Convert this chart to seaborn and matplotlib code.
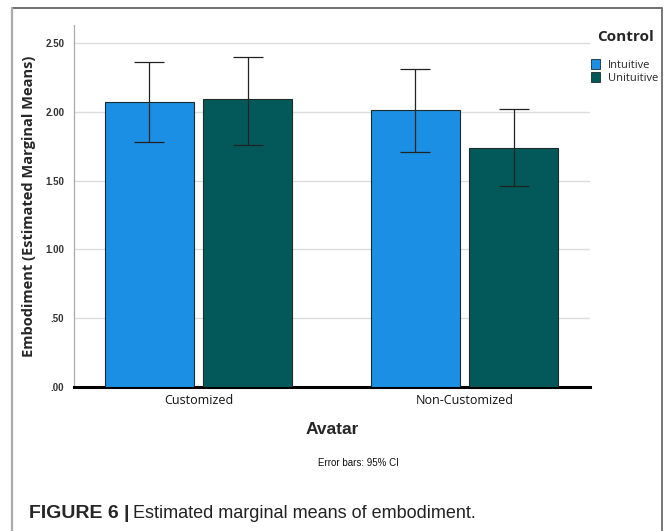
import matplotlib
matplotlib.use("Agg")
import matplotlib.pyplot as plt
from matplotlib.lines import Line2D
from matplotlib.patches import Patch
import seaborn as sns
import pandas as pd

# Estimated marginal means of embodiment with 95% CI bounds
avatar = ["Customized", "Customized", "Non-Customized", "Non-Customized"]
control = ["Intuitive", "Unituitive", "Intuitive", "Unituitive"]
means = [2.07, 2.09, 2.01, 1.74]
ci_low = [1.78, 1.76, 1.71, 1.46]
ci_high = [2.36, 2.40, 2.31, 2.02]

avatar_order = ["Customized", "Non-Customized"]
control_order = ["Intuitive", "Unituitive"]
y_ticks = [0.0, 0.5, 1.0, 1.5, 2.0, 2.5]
y_tick_labels = [".00", ".50", "1.00", "1.50", "2.00", "2.50"]

palette = {"Intuitive": "#1a8fe3", "Unituitive": "#03595a"}

df = pd.DataFrame({"Avatar": avatar, "Control": control, "Mean": means,
                   "Low": ci_low, "High": ci_high})

sns.set_theme(style="white")
plt.rcParams["font.family"] = ["Liberation Sans", "DejaVu Sans"]

fig = plt.figure(figsize=(6.70, 5.31), dpi=100)
ax = fig.add_axes([74 / 670, 1 - 387 / 531, 516 / 670, 362 / 531])

sns.barplot(data=df, x="Avatar", y="Mean", hue="Control",
            order=avatar_order, hue_order=control_order, palette=palette,
            saturation=1, errorbar=None, width=0.74, gap=0.1,
            edgecolor="#1c2a2a", linewidth=0.8, legend=False, ax=ax, zorder=3)

# error bars at each bar's centre, matched to the data rows
for patch_group, hue_name in zip(ax.containers, control_order):
    for bar, av in zip(patch_group, avatar_order):
        row = df[(df["Avatar"] == av) & (df["Control"] == hue_name)].iloc[0]
        xc = bar.get_x() + bar.get_width() / 2
        ax.errorbar([xc], [row["Mean"]],
                    yerr=[[row["Mean"] - row["Low"]], [row["High"] - row["Mean"]]],
                    fmt="none", ecolor="#222222", elinewidth=0.9,
                    capsize=11, capthick=0.9, zorder=4)

ax.set_xlim(-0.468, 1.472)
ax.set_ylim(0, 2.631)
ax.set_yticks(y_ticks)
ax.set_yticklabels(y_tick_labels, fontsize=7, fontweight="bold", color="#333333")
ax.yaxis.grid(True, color="#dddddd", linewidth=1.0, zorder=0)
ax.set_axisbelow(True)
ax.tick_params(axis="y", length=0, pad=7)
ax.tick_params(axis="x", length=0, pad=5)
for lbl in ax.get_xticklabels():
    lbl.set_fontfamily(["Open Sans", "DejaVu Sans"])
    lbl.set_fontsize(9)
    lbl.set_color("#111111")

for side in ["top", "right"]:
    ax.spines[side].set_visible(False)
ax.spines["left"].set_color("#aaaaaa")
ax.spines["left"].set_linewidth(0.9)
ax.spines["bottom"].set_color("#000000")
ax.spines["bottom"].set_linewidth(2.2)

ax.set_xlabel("")
ax.set_ylabel("")
fig.text(29 / 670, 1 - 206 / 531, "Embodiment (Estimated Marginal Means)",
         rotation=90, ha="center", va="center", fontsize=10.5,
         fontweight="bold", family=["Open Sans", "DejaVu Sans"])

fig.text(332 / 670, 1 - 430 / 531, "Avatar", ha="center", va="center",
         fontsize=12.5, fontweight="bold",
         family=["Liberation Sans Narrow", "Liberation Sans"])
fig.text(358 / 670, 1 - 463 / 531, "Error bars: 95% CI", ha="center", va="center",
         fontsize=7, color="#111111")

# legend: title and entries
fig.text(626 / 670, 1 - 37 / 531, "Control", ha="center", va="center",
         fontsize=11, fontweight="bold", family=["Open Sans", "DejaVu Sans"])
handles = [Patch(facecolor=palette[c], edgecolor="#1c2a2a", linewidth=0.6)
           for c in control_order]
fig.legend(handles, control_order, loc="upper left",
           bbox_to_anchor=(583 / 670, 1 - 51 / 531), frameon=False,
           prop={"family": ["Open Sans", "DejaVu Sans"], "size": 8},
           handlelength=0.85, handleheight=1.05,
           handletextpad=0.7, labelspacing=0.1, borderpad=0.2)

# caption
cap_y = 1 - 514 / 531
fig.text(29 / 670, cap_y, "FIGURE 6", ha="left", va="center",
         fontsize=14, fontweight="bold")
fig.text(126 / 670, cap_y, "|", ha="center", va="center",
         fontsize=14, fontweight="bold")
fig.text(133 / 670, cap_y, "Estimated marginal means of embodiment.",
         ha="left", va="center", fontsize=13, color="#222222")

# panel frame
fig.add_artist(Line2D([12 / 670, 662 / 670], [1 - 8 / 531, 1 - 8 / 531],
                      transform=fig.transFigure, color="#555555", linewidth=1.2))
fig.add_artist(Line2D([12 / 670, 12 / 670], [0, 1 - 8 / 531],
                      transform=fig.transFigure, color="#aaaaaa", linewidth=1.6))
fig.add_artist(Line2D([662 / 670, 662 / 670], [0, 1 - 8 / 531],
                      transform=fig.transFigure, color="#777777", linewidth=1.4))

fig.savefig("out.png", dpi=100)
